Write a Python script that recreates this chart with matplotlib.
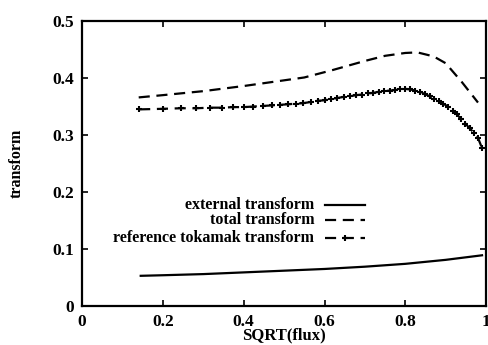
import matplotlib
matplotlib.use("Agg")
import matplotlib.pyplot as plt
from matplotlib.ticker import FuncFormatter

# external transform (solid)
x_ext = [0.145, 0.2, 0.3, 0.4, 0.5, 0.6, 0.7, 0.8, 0.9, 0.99]
y_ext = [0.053, 0.054, 0.056, 0.059, 0.062, 0.065, 0.069, 0.074, 0.081, 0.089]

# total transform (dashed)
x_tot = [0.14, 0.2, 0.3, 0.4, 0.5, 0.55, 0.62, 0.70, 0.75, 0.80, 0.83,
         0.87, 0.90, 0.94, 0.98]
y_tot = [0.366, 0.370, 0.377, 0.386, 0.396, 0.401, 0.414, 0.430, 0.439,
         0.444, 0.445, 0.438, 0.426, 0.393, 0.357]

# reference tokamak transform (dashed with points)
x_ref = [0.141, 0.200, 0.245, 0.283, 0.316, 0.346, 0.374, 0.400, 0.424,
         0.447, 0.469, 0.490, 0.510, 0.529, 0.548, 0.566, 0.583, 0.600,
         0.616, 0.632, 0.648, 0.663, 0.678, 0.693, 0.707, 0.721, 0.735,
         0.748, 0.762, 0.775, 0.787, 0.800, 0.812, 0.825, 0.837, 0.849,
         0.860, 0.872, 0.883, 0.894, 0.906, 0.917, 0.927, 0.938, 0.949,
         0.959, 0.970, 0.980, 0.990]
y_ref = [0.345, 0.346, 0.347, 0.347, 0.348, 0.348, 0.349, 0.349, 0.350,
         0.351, 0.352, 0.353, 0.354, 0.355, 0.356, 0.358, 0.360, 0.361,
         0.363, 0.365, 0.367, 0.368, 0.370, 0.371, 0.373, 0.374, 0.376,
         0.377, 0.378, 0.379, 0.380, 0.381, 0.380, 0.378, 0.375, 0.372,
         0.368, 0.364, 0.360, 0.355, 0.350, 0.343, 0.337, 0.328, 0.320,
         0.312, 0.304, 0.295, 0.277]

labels = ["external transform", "total transform", "reference tokamak transform"]

plt.rcParams['font.family'] = ['Liberation Serif', 'DejaVu Serif']
plt.rcParams['font.weight'] = 'bold'
plt.rcParams['axes.labelweight'] = 'bold'

fig = plt.figure(figsize=(4.89, 3.45), dpi=100)
ax = fig.add_axes([0.168, 0.113, 0.826, 0.826])

ax.plot(x_ext, y_ext, 'k-', lw=1.6)
ax.plot(x_tot, y_tot, 'k', lw=1.6, dashes=(5, 3))
ax.plot(x_ref, y_ref, 'k', lw=1.6, dashes=(5, 3), marker='+', ms=5, mew=1.5)

ax.set_xlim(0, 1)
ax.set_ylim(0, 0.5)
ax.set_xticks([0, 0.2, 0.4, 0.6, 0.8, 1])
ax.set_yticks([0, 0.1, 0.2, 0.3, 0.4, 0.5])
fmt = FuncFormatter(lambda v, p: '%g' % v)
ax.xaxis.set_major_formatter(fmt)
ax.yaxis.set_major_formatter(fmt)
ax.tick_params(direction='in', top=True, right=True, length=4, width=1.2,
               labelsize=12.5, pad=6)
for s in ax.spines.values():
    s.set_linewidth(1.6)

ax.set_xlabel('SQRT(flux)', fontsize=12, labelpad=-2)
ax.set_ylabel('transform', fontsize=11.5, labelpad=20)

# legend drawn by hand: text right-aligned, sample to its right
rows = [0.354, 0.301, 0.238]
styles = [dict(ls='-'), dict(dashes=(5, 3)), dict(dashes=(5, 3))]
for lab, yy, st in zip(labels, rows, styles):
    ax.text(0.575, yy, lab, transform=ax.transAxes, ha='right', va='center',
            fontsize=11.5)
    ax.plot([0.600, 0.700], [yy, yy], transform=ax.transAxes, color='k',
            lw=1.6, **st)
ax.plot([0.650], [rows[2]], transform=ax.transAxes, color='k', marker='+',
        ms=5, mew=1.5)

fig.savefig('out.png', dpi=100)
